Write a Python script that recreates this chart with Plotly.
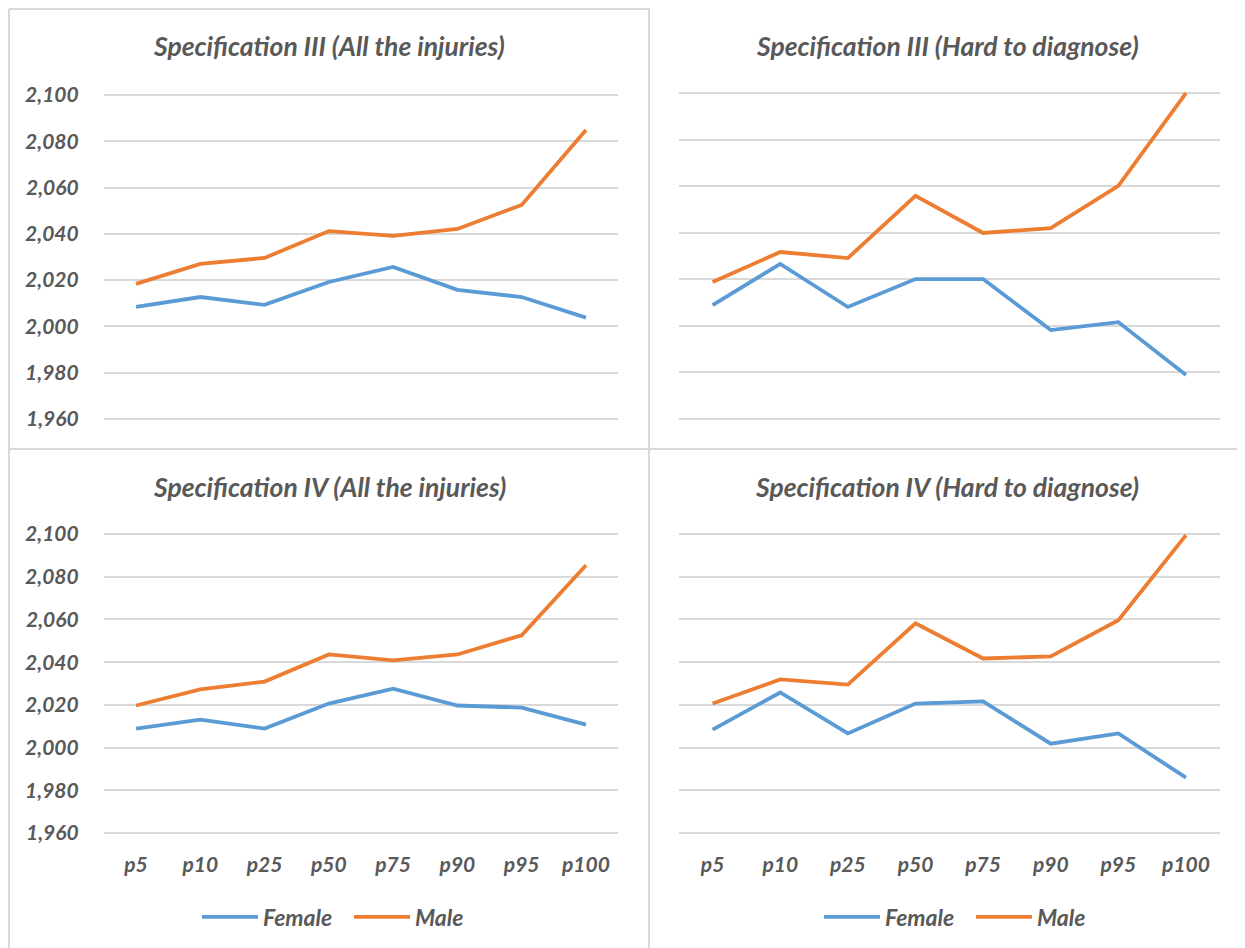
import plotly.graph_objects as go

W, H = 1245, 948
OX, OY = 8, 8  # page body margin offset

categories = ["p5", "p10", "p25", "p50", "p75", "p90", "p95", "p100"]

spec3_all_female = [2008.4, 2012.7, 2009.3, 2019.2, 2025.7, 2015.8, 2012.7, 2003.8]
spec3_all_male = [2018.4, 2027.0, 2029.6, 2041.2, 2039.1, 2042.1, 2052.5, 2084.9]

spec3_hard_female = [2008.9, 2026.6, 2008.1, 2020.1, 2020.1, 1998.2, 2001.6, 1978.9]
spec3_hard_male = [2018.8, 2031.7, 2029.1, 2055.8, 2039.9, 2042.0, 2060.1, 2100.0]

spec4_all_female = [2008.9, 2013.1, 2008.9, 2020.6, 2027.6, 2019.7, 2018.7, 2010.7]
spec4_all_male = [2019.7, 2027.2, 2030.9, 2043.6, 2040.8, 2043.6, 2052.6, 2085.4]

spec4_hard_female = [2008.4, 2025.8, 2006.6, 2020.6, 2021.6, 2001.8, 2006.6, 1985.9]
spec4_hard_male = [2020.6, 2031.9, 2029.5, 2058.2, 2041.7, 2042.7, 2059.6, 2099.5]

titles = [
    "Specification III (All the injuries)",
    "Specification III (Hard to diagnose)",
    "Specification IV (All the injuries)",
    "Specification IV (Hard to diagnose)",
]

y_ticks = [1960, 1980, 2000, 2020, 2040, 2060, 2080, 2100]

BLUE = "#5B9BD5"
ORANGE = "#ED7D31"
TEXT = "#595959"
GRID = "#D9D9D9"
FONT = "Lato"


def fx(px):
    return (px - OX) / W


def fy(py):
    return 1 - (py - OY) / H


panels = [
    # (female, male, xdomain px, ydomain px, show y labels, show x labels, legend)
    (spec3_all_female, spec3_all_male, (103.9, 618.1), (92.7, 421.3), True, False, None),
    (spec3_hard_female, spec3_hard_male, (678.8, 1219.8), (90.7, 421.3), False, False, None),
    (spec4_all_female, spec4_all_male, (103.9, 618.1), (531.9, 835.1), True, True, "legend"),
    (spec4_hard_female, spec4_hard_male, (678.8, 1219.8), (531.9, 835.1), False, True, "legend2"),
]

tick_font = dict(family=FONT, size=21, color=TEXT, weight="bold", style="italic")

fig = go.Figure()
layout = {}
for i, (fem, mal, xd, yd, show_y, show_x, leg) in enumerate(panels):
    n = "" if i == 0 else str(i + 1)
    xa, ya = "x" + n, "y" + n
    for name, vals, col in (("Female", fem, BLUE), ("Male", mal, ORANGE)):
        fig.add_trace(go.Scatter(
            x=categories, y=vals, mode="lines", name=name,
            line=dict(color=col, width=3.8),
            xaxis=xa, yaxis=ya,
            showlegend=leg is not None,
            legend=leg if leg else "legend",
        ))
    layout["xaxis" + n] = dict(
        domain=[fx(xd[0]), fx(xd[1])], anchor=ya, type="category",
        categoryorder="array", categoryarray=categories,
        range=[-0.5, 7.5], showgrid=False, showline=False, zeroline=False,
        showticklabels=show_x, ticks="outside" if show_x else "",
        ticklen=11, tickcolor="rgba(0,0,0,0)",
        tickfont=tick_font, automargin=False,
        fixedrange=True,
    )
    layout["yaxis" + n] = dict(
        domain=[fy(yd[1]), fy(yd[0])], anchor=xa, range=[1959, 2101],
        tickvals=y_ticks, tickformat=",d",
        showgrid=True, gridcolor=GRID, gridwidth=1.6,
        showline=False, zeroline=False,
        showticklabels=show_y, ticks="outside" if show_y else "",
        ticklen=20, tickcolor="rgba(0,0,0,0)",
        tickfont=tick_font, automargin=False,
        fixedrange=True,
    )

fig.update_layout(**layout)

title_pos = [(329, 46), (947, 46), (329, 487), (947, 487)]
annotations = []
for t, (cx, cy) in zip(titles, title_pos):
    annotations.append(dict(
        text=t, x=fx(cx), y=fy(cy), xref="paper", yref="paper",
        xanchor="center", yanchor="middle", showarrow=False,
        font=dict(family=FONT, size=26.5, color=TEXT, weight="bold", style="italic"),
    ))

shapes = []
border = dict(color=GRID, width=2)
for x0, y0, x1, y1 in [
    (9, 9, 649, 9), (649, 7, 1260, 7), (9, 9, 9, 960), (649, 7, 649, 960), (9, 449, 1260, 449),
]:
    shapes.append(dict(type="line", xref="paper", yref="paper",
                       x0=fx(x0), x1=fx(x1), y0=fy(y0), y1=fy(y1), line=border))

legend_font = dict(family=FONT, size=23, color=TEXT, weight="bold", style="italic")
legend_common = dict(orientation="h", xanchor="left", yanchor="middle", font=legend_font,
                     bgcolor="rgba(0,0,0,0)", itemwidth=56, traceorder="normal",
                     entrywidth=81, entrywidthmode="pixels")
fig.update_layout(
    width=W, height=H,
    margin=dict(l=0, r=0, t=0, b=0, pad=0),
    paper_bgcolor="white", plot_bgcolor="white",
    annotations=annotations, shapes=shapes,
    legend=dict(x=fx(197), y=fy(917), **legend_common),
    legend2=dict(x=fx(819), y=fy(917), **legend_common),
)

fig.write_html("out.html")
